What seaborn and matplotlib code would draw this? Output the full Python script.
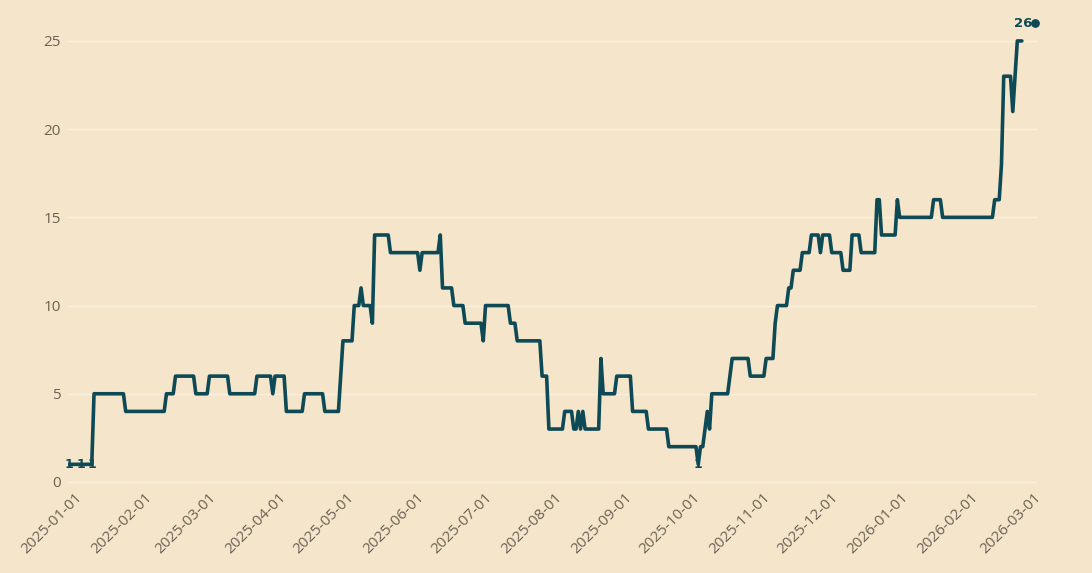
import numpy as np
import pandas as pd
import matplotlib.pyplot as plt
import matplotlib.dates as mdates
import matplotlib.transforms as mtransforms
import seaborn as sns

# first few sparse points, then one value per day given as runs
early_dates = ['2024-12-29', '2025-01-03', '2025-01-08']
early_values = [1, 1, 1]
run_start = '2025-01-09'
run_values = [5, 4, 5, 6, 5, 6, 5, 6, 5, 6,
              4, 5, 4, 6, 8, 10, 11, 10, 9, 14,
              13, 12, 13, 14, 11, 10, 9, 8, 10, 9,
              8, 6, 3, 4, 3, 4, 3, 4, 3, 7,
              5, 6, 4, 3, 2, 1, 2, 3, 4, 3,
              5, 6, 7, 6, 7, 9, 10, 11, 12, 13,
              14, 13, 14, 13, 12, 14, 13, 16, 14, 16,
              15, 16, 15, 16, 18, 23, 21, 23, 25]
run_days = [14, 18, 4, 9, 6, 9, 12, 7, 1, 5,
            8, 9, 7, 1, 5, 3, 1, 4, 1, 7,
            13, 1, 8, 1, 5, 5, 8, 1, 11, 3,
            11, 3, 7, 4, 2, 1, 1, 1, 7, 1,
            6, 7, 7, 9, 13, 1, 2, 1, 1, 1,
            8, 1, 8, 7, 4, 1, 5, 2, 4, 4,
            4, 1, 4, 5, 4, 4, 7, 2, 7, 1,
            15, 4, 23, 3, 1, 4, 1, 1, 3]
last_date = '2026-03-01'
last_value = 26
tick_dates = pd.date_range('2025-01-01', '2026-03-01', freq='MS')

bg = '#F5E5CA'
line_col = '#0E4A55'
txt_col = '#6B6254'

daily = pd.date_range(run_start, periods=sum(run_days), freq='D')
df = pd.DataFrame({
    'date': list(pd.to_datetime(early_dates)) + list(daily),
    'value': early_values + list(np.repeat(run_values, run_days)),
})

sns.set_theme(style='white')
plt.rcParams['font.family'] = ['Open Sans', 'DejaVu Sans']

fig = plt.figure(figsize=(10.92, 5.73), dpi=100, facecolor=bg)
ax = fig.add_axes([68 / 1092, 1 - 485.5 / 573, (1037 - 68) / 1092, (485.5 - 18) / 573])
ax.set_facecolor(bg)

sns.lineplot(data=df, x='date', y='value', ax=ax, color=line_col,
             linewidth=2.6, estimator=None, zorder=3)

# label the minimum points
mins = df[df['value'] == df['value'].min()]
for d, v in zip(mins['date'], mins['value']):
    ax.text(d, v, str(v), ha='center', va='center', fontsize=9,
            fontweight='bold', color=line_col, family='DejaVu Sans', zorder=4)

# last value marker
ax.scatter([pd.Timestamp(last_date)], [last_value], s=28, color=line_col,
           zorder=5, clip_on=False)
ax.text(pd.Timestamp(last_date) - pd.Timedelta(days=1.4), last_value, str(last_value),
        ha='right', va='center', fontsize=9.5, fontweight='bold',
        color=line_col, family='DejaVu Sans', zorder=5)

jan1 = pd.Timestamp('2025-01-01')
ax.set_xlim(jan1 - pd.Timedelta(days=3.5), jan1 + pd.Timedelta(days=424.7))
ax.set_ylim(-0.2, 26.3)

ax.set_xticks(tick_dates)
ax.xaxis.set_major_formatter(mdates.DateFormatter('%Y-%m-%d'))
ax.set_yticks([0, 5, 10, 15, 20, 25])
ax.tick_params(axis='both', length=0, colors=txt_col, labelsize=11)
ax.tick_params(axis='x', pad=7)
ax.tick_params(axis='y', pad=5)
shift = mtransforms.ScaledTranslation(4 / 100, 0, fig.dpi_scale_trans)
for lab in ax.get_xticklabels():
    lab.set_rotation(45)
    lab.set_ha('right')
    lab.set_va('center')
    lab.set_rotation_mode('anchor')
    lab.set_transform(lab.get_transform() + shift)

ax.grid(axis='y', color='#FBF0DE', linewidth=1)
ax.grid(axis='x', visible=False)
for s in ax.spines.values():
    s.set_visible(False)
ax.set_xlabel('')
ax.set_ylabel('')

fig.savefig('out.png', dpi=100, facecolor=bg)
